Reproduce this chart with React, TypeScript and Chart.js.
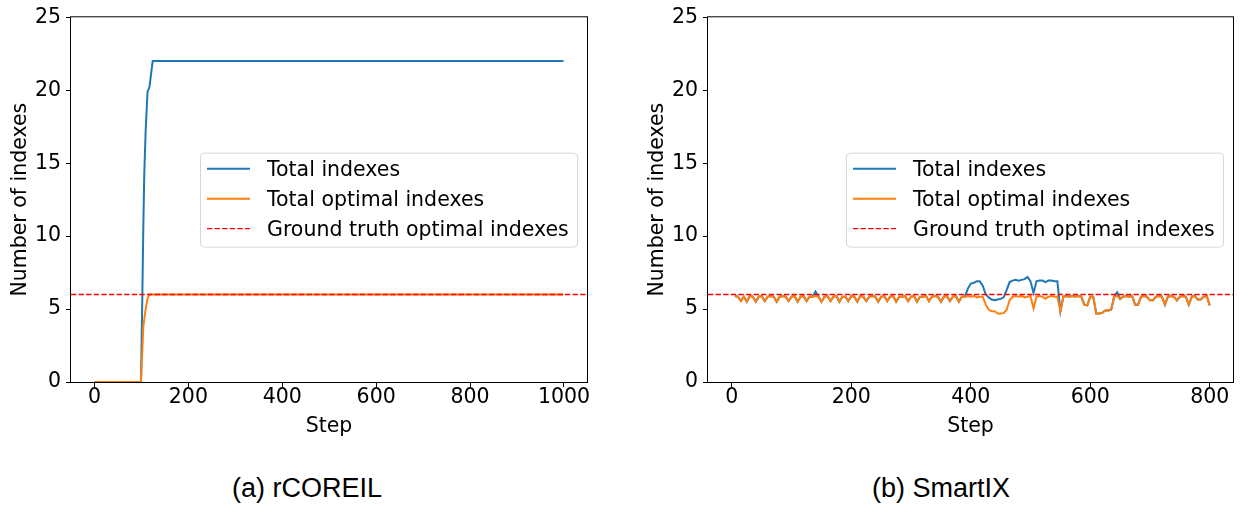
import React, { useEffect, useRef } from "react";
import { Chart, registerables } from "chart.js";

Chart.register(...registerables);

// ---------------- data ----------------
const xTicksA = [0, 200, 400, 600, 800, 1000];
const xTicksB = [0, 200, 400, 600, 800];
const yTicks = [0, 5, 10, 15, 20, 25];
const seriesLabels = ["Total indexes", "Total optimal indexes", "Ground truth optimal indexes"];
const groundTruth = 6;
const captions = ["(a) rCOREIL", "(b) SmartIX"];
const xTitle = "Step";
const yTitle = "Number of indexes";

// (a) rCOREIL
const stepsA = [0, 99, 102, 104, 106, 109, 113, 117, 124, 999];
const totalA = [0, 0, 6, 10.6, 14.2, 17.2, 19.9, 20.2, 22, 22];
const optimalA = [0, 0, 2.2, 3.8, 4.3, 5.0, 5.7, 6, 6, 6];

// (b) SmartIX
const stepsB = [
  5, 10, 15, 20, 25, 30, 35, 40, 45, 50,
  55, 60, 65, 70, 75, 80, 85, 90, 95, 100,
  105, 110, 115, 120, 125, 130, 135, 140, 145, 150,
  155, 160, 165, 170, 175, 180, 185, 190, 195, 200,
  205, 210, 215, 220, 225, 230, 235, 240, 245, 250,
  255, 260, 265, 270, 275, 280, 285, 290, 295, 300,
  305, 310, 315, 320, 325, 330, 335, 340, 345, 350,
  355, 360, 365, 370, 375, 380, 385, 390, 395, 400,
  405, 410, 415, 420, 425, 430, 435, 440, 445, 450,
  455, 460, 465, 470, 475, 480, 485, 490, 495, 500,
  505, 510, 515, 520, 525, 530, 535, 540, 545, 550,
  555, 560, 565, 570, 575, 580, 585, 590, 595, 600,
  605, 610, 615, 620, 625, 630, 635, 640, 645, 650,
  655, 660, 665, 670, 675, 680, 685, 690, 695, 700,
  705, 710, 715, 720, 725, 730, 735, 740, 745, 750,
  755, 760, 765, 770, 775, 780, 785, 790, 795, 800,
];
const totalB = [
  5.9, 5.85, 5.55, 5.85, 5.5, 5.9, 5.85, 5.5, 5.85, 5.9,
  5.55, 5.85, 5.9, 5.85, 5.5, 5.85, 5.9, 5.85, 5.55, 5.85,
  5.9, 5.5, 5.85, 5.9, 5.55, 5.85, 5.85, 6.2, 5.85, 5.5,
  5.85, 5.9, 5.55, 5.85, 5.9, 5.5, 5.85, 5.85, 5.55, 5.9,
  5.85, 5.5, 5.9, 5.85, 5.55, 5.85, 5.9, 5.85, 5.5, 5.85,
  5.9, 5.55, 5.85, 5.9, 5.5, 5.85, 5.85, 5.9, 5.55, 5.85,
  5.9, 5.5, 5.85, 5.85, 5.9, 5.55, 5.85, 5.9, 5.85, 5.5,
  5.85, 5.9, 5.55, 5.85, 5.9, 5.5, 5.85, 5.85, 6.4, 6.75,
  6.8, 6.9, 6.9, 6.6, 6.0, 5.8, 5.65, 5.6, 5.65, 5.7,
  5.8, 6.3, 6.85, 6.95, 7.0, 6.95, 7.0, 7.05, 7.2, 6.9,
  6.1, 6.9, 6.95, 6.95, 6.85, 6.95, 6.95, 6.9, 6.9, 4.85,
  5.85, 5.9, 5.85, 5.9, 5.85, 5.9, 5.85, 5.3, 5.25, 5.85,
  5.85, 4.7, 4.7, 4.75, 4.9, 4.9, 4.95, 5.85, 6.15, 5.7,
  5.85, 5.9, 5.85, 5.9, 5.3, 5.3, 5.85, 5.9, 5.85, 5.6,
  5.6, 5.85, 5.9, 5.85, 5.3, 5.85, 5.9, 5.85, 5.6, 5.85,
  5.9, 5.85, 5.3, 5.85, 5.9, 5.65, 5.65, 5.85, 5.9, 5.25,
];
const optimalB = [
  5.9, 5.85, 5.55, 5.85, 5.5, 5.9, 5.85, 5.5, 5.85, 5.9,
  5.55, 5.85, 5.9, 5.85, 5.5, 5.85, 5.9, 5.85, 5.55, 5.85,
  5.9, 5.5, 5.85, 5.9, 5.55, 5.85, 5.85, 5.9, 5.85, 5.5,
  5.85, 5.9, 5.55, 5.85, 5.9, 5.5, 5.85, 5.85, 5.55, 5.9,
  5.85, 5.5, 5.9, 5.85, 5.55, 5.85, 5.9, 5.85, 5.5, 5.85,
  5.9, 5.55, 5.85, 5.9, 5.5, 5.85, 5.85, 5.9, 5.55, 5.85,
  5.9, 5.5, 5.85, 5.85, 5.9, 5.55, 5.85, 5.9, 5.85, 5.5,
  5.85, 5.9, 5.55, 5.85, 5.9, 5.5, 5.85, 5.85, 5.9, 5.85,
  5.9, 5.8, 5.85, 5.85, 5.3, 4.95, 4.85, 4.85, 4.7, 4.7,
  4.72, 4.95, 5.6, 5.85, 5.9, 5.85, 5.9, 5.8, 5.85, 5.9,
  5.05, 5.85, 5.9, 5.85, 5.7, 5.85, 5.9, 5.85, 5.85, 4.85,
  5.85, 5.9, 5.85, 5.9, 5.85, 5.9, 5.85, 5.3, 5.25, 5.85,
  5.85, 4.7, 4.7, 4.75, 4.9, 4.9, 4.95, 5.85, 5.9, 5.7,
  5.85, 5.9, 5.85, 5.9, 5.3, 5.3, 5.85, 5.9, 5.85, 5.6,
  5.6, 5.85, 5.9, 5.85, 5.3, 5.85, 5.9, 5.85, 5.6, 5.85,
  5.9, 5.85, 5.3, 5.85, 5.9, 5.65, 5.65, 5.85, 5.9, 5.25,
];

// axis ranges (matplotlib-like 5% margins)
const xRangeA = [-50, 1049];
const xRangeB = [-40, 839];
const yRange = [0, 25];

// ---------------- styles ----------------
const FONT = "'DejaVu Sans', sans-serif";
const FONT_SIZE = 20.5;
const COLORS = ["#1f77b4", "#ff7f0e", "#ff0000"];
const CANVAS_H = 450;
const AREA_TOP = 16;
const AREA_BOTTOM = 382;
const Y_AXIS_W = 71;

const frameLegendPlugin = {
  id: "frameLegend",
  afterDraw(chart: any) {
    const { ctx, chartArea: a } = chart;
    ctx.save();
    // frame (all four spines)
    ctx.strokeStyle = "#000";
    ctx.lineWidth = 1;
    ctx.strokeRect(a.left - 0.5, a.top - 0.5, a.right - a.left + 1, a.bottom - a.top + 1);

    // legend, matplotlib "center right"
    const boxW = 377;
    const boxH = 94;
    const bx = a.right - 10 - boxW;
    const by = (a.top + a.bottom) / 2 - boxH / 2;
    ctx.beginPath();
    if ((ctx as any).roundRect) (ctx as any).roundRect(bx + 0.5, by + 0.5, boxW, boxH, 4);
    else ctx.rect(bx + 0.5, by + 0.5, boxW, boxH);
    ctx.fillStyle = "rgba(255,255,255,0.8)";
    ctx.fill();
    ctx.strokeStyle = "rgba(204,204,204,0.8)";
    ctx.lineWidth = 1;
    ctx.stroke();

    const dsets = chart.data.datasets;
    dsets.forEach((ds: any, i: number) => {
      const y = by + 16 + i * 30;
      ctx.beginPath();
      ctx.strokeStyle = ds.borderColor;
      ctx.lineWidth = ds.borderWidth;
      ctx.setLineDash(ds.borderDash || []);
      ctx.moveTo(bx + 7, y);
      ctx.lineTo(bx + 50, y);
      ctx.stroke();
      ctx.setLineDash([]);
      ctx.fillStyle = "#000";
      ctx.font = `${FONT_SIZE}px ${FONT}`;
      ctx.textBaseline = "alphabetic";
      ctx.textAlign = "left";
      ctx.fillText(ds.label, bx + 67, y + 7.5);
    });
    ctx.restore();
  },
};

type PanelProps = {
  left: number;
  width: number;
  steps: number[];
  total: number[];
  optimal: number[];
  xTicks: number[];
  xRange: number[];
  areaRight: number;
};

function Panel({ left, width, steps, total, optimal, xTicks, xRange, areaRight }: PanelProps) {
  const ref = useRef<HTMLCanvasElement>(null);
  useEffect(() => {
    if (!ref.current) return;
    const chart = new Chart(ref.current, {
      type: "line",
      data: {
        datasets: [
          {
            label: seriesLabels[0],
            data: steps.map((s, i) => ({ x: s, y: total[i] })),
            borderColor: COLORS[0],
            backgroundColor: COLORS[0],
            borderWidth: 2,
            pointRadius: 0,
            tension: 0,
            order: 3,
          },
          {
            label: seriesLabels[1],
            data: steps.map((s, i) => ({ x: s, y: optimal[i] })),
            borderColor: COLORS[1],
            backgroundColor: COLORS[1],
            borderWidth: 2,
            pointRadius: 0,
            tension: 0,
            order: 2,
          },
          {
            label: seriesLabels[2],
            data: [
              { x: xRange[0], y: groundTruth },
              { x: xRange[1], y: groundTruth },
            ],
            borderColor: COLORS[2],
            backgroundColor: COLORS[2],
            borderWidth: 1.4,
            borderDash: [5.3, 2.3],
            pointRadius: 0,
            tension: 0,
            order: 1,
          },
        ],
      },
      options: {
        animation: false,
        responsive: false,
        devicePixelRatio: 1,
        layout: { padding: { left: 0, top: AREA_TOP, right: width - areaRight, bottom: 0 } },
        plugins: { legend: { display: false }, tooltip: { enabled: false }, title: { display: false } },
        scales: {
          x: {
            type: "linear",
            position: "bottom",
            min: xRange[0],
            max: xRange[1],
            afterBuildTicks: (scale: any) => {
              scale.ticks = xTicks.map((v) => ({ value: v }));
            },
            afterFit: (scale: any) => {
              scale.height = CANVAS_H - AREA_BOTTOM;
            },
            grid: {
              display: true,
              drawOnChartArea: false,
              drawTicks: true,
              tickLength: 5,
              tickColor: "#000",
              tickWidth: 1,
            },
            border: { display: false },
            ticks: {
              autoSkip: false,
              maxRotation: 0,
              color: "#000",
              padding: 0,
              font: { family: FONT, size: FONT_SIZE, lineHeight: 1 },
              callback: (v: any) => String(v),
            },
            title: {
              display: true,
              text: xTitle,
              color: "#000",
              font: { family: FONT, size: FONT_SIZE },
              padding: { top: 0, bottom: 11.5 },
            },
          },
          y: {
            type: "linear",
            position: "left",
            min: yRange[0],
            max: yRange[1],
            afterBuildTicks: (scale: any) => {
              scale.ticks = yTicks.map((v) => ({ value: v }));
            },
            afterFit: (scale: any) => {
              scale.width = Y_AXIS_W;
            },
            grid: {
              display: true,
              drawOnChartArea: false,
              drawTicks: true,
              tickLength: 5,
              tickColor: "#000",
              tickWidth: 1,
            },
            border: { display: false },
            ticks: {
              color: "#000",
              padding: 5,
              font: { family: FONT, size: FONT_SIZE },
              callback: (v: any) => String(v),
            },
            title: {
              display: true,
              text: yTitle,
              color: "#000",
              font: { family: FONT, size: FONT_SIZE },
              padding: { top: 8, bottom: 0 },
            },
          },
        },
      },
      plugins: [frameLegendPlugin],
    } as any);
    return () => chart.destroy();
  }, []);
  return (
    <canvas
      ref={ref}
      width={width}
      height={CANVAS_H}
      style={{ position: "absolute", left, top: 0, width, height: CANVAS_H }}
    />
  );
}

const captionStyle = (center: number): React.CSSProperties => ({
  position: "absolute",
  left: center - 150,
  width: 300,
  top: 475,
  height: 27,
  lineHeight: "27px",
  textAlign: "center",
  fontFamily: "'Liberation Sans', Arial, sans-serif",
  fontSize: 27,
  color: "#000",
  whiteSpace: "nowrap",
});

export default function App() {
  return (
    <div style={{ position: "absolute", left: 0, top: 0, width: 1240, height: 506, background: "#fff", overflow: "hidden" }}>
      <Panel left={0} width={637} steps={stepsA} total={totalA} optimal={optimalA} xTicks={xTicksA} xRange={xRangeA} areaRight={587} />
      <Panel left={637} width={603} steps={stepsB} total={totalB} optimal={optimalB} xTicks={xTicksB} xRange={xRangeB} areaRight={596} />
      <div style={captionStyle(307)}>{captions[0]}</div>
      <div style={captionStyle(941)}>{captions[1]}</div>
    </div>
  );
}
